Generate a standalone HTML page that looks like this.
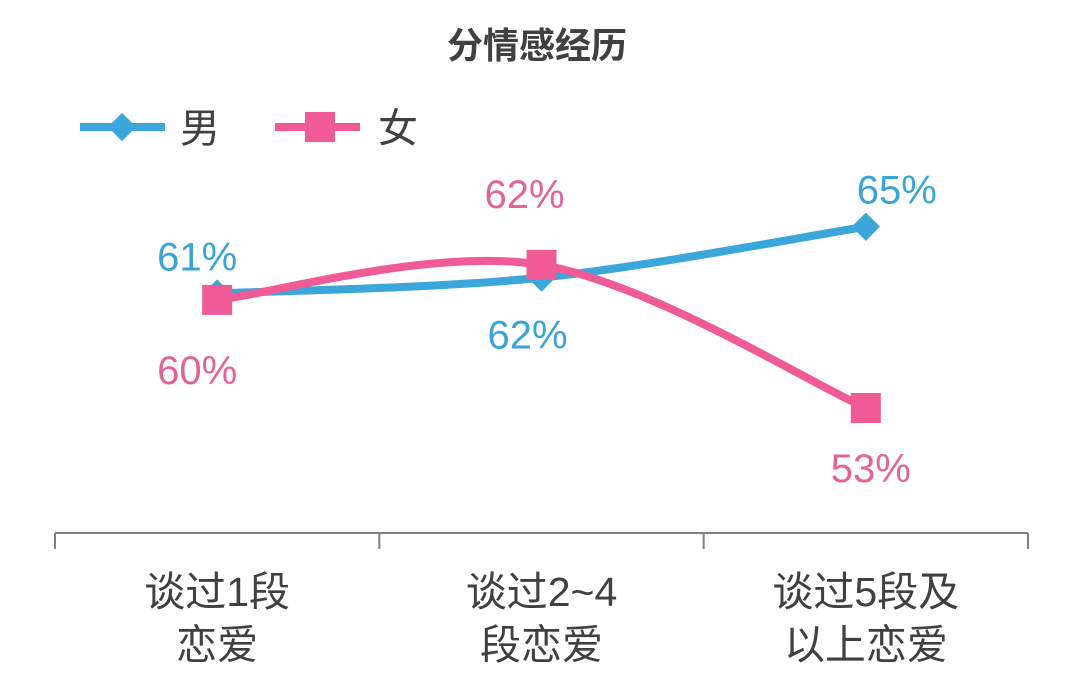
<!DOCTYPE html>
<html><head><meta charset="utf-8"><style>
html,body{margin:0;padding:0;background:#fff;}
svg text{font-family:"Liberation Sans","Noto Sans CJK SC",sans-serif;}
</style></head><body>
<svg id="chart" width="1080" height="684" viewBox="0 0 1080 684">
<text x="537" y="58" text-anchor="middle" font-size="36" font-weight="bold" fill="#404040">分情感经历</text>
<g>
<g>
<line x1="80" y1="127" x2="165" y2="127" stroke="#3ba6d9" stroke-width="8"/>
<rect x="112" y="117" width="20" height="20" fill="#3ba6d9" transform="rotate(45 122 127)"/>
<text x="180" y="142" font-size="40" fill="#404040">男</text>
</g>
<g>
<line x1="275" y1="127" x2="360" y2="127" stroke="#ef5a97" stroke-width="8"/>
<rect x="305" y="112" width="30" height="30" fill="#ef5a97"/>
<text x="378" y="142" font-size="40" fill="#404040">女</text>
</g>
</g>
<g id="axis"></g>
<g id="series"></g>
</svg>
<script>
const categories = [["谈过1段","恋爱"],["谈过2~4","段恋爱"],["谈过5段及","以上恋爱"]];
const maleValues = [60.2, 61.2, 64.4];
const femaleValues = [59.8, 62.0, 53.0];
const maleLabels = ["61%","62%","65%"];
const femaleLabels = ["60%","62%","53%"];

const NS="http://www.w3.org/2000/svg";
const left=55,right=1028,axisY=533;
const band=(right-left)/categories.length;
const xs=i=>left+band*(i+0.5);
const ys=v=>408-(v-53)*15.9;
function mk(tag,attrs,parent){const e=document.createElementNS(NS,tag);for(const k in attrs)e.setAttribute(k,attrs[k]);parent.appendChild(e);return e;}
const axis=document.getElementById('axis'),series=document.getElementById('series');
mk('line',{x1:left,y1:axisY,x2:right,y2:axisY,stroke:'#808080','stroke-width':2},axis);
for(let i=0;i<=categories.length;i++){
  const t=mk('line',{x1:left+band*i,y1:axisY,x2:left+band*i,y2:549,stroke:'#808080','stroke-width':2},axis);
  
  
}
categories.forEach((c,i)=>{
  c.forEach((ln,j)=>{
    const t=mk('text',{x:xs(i),y:606+j*53,'text-anchor':'middle','font-size':41,fill:'#404040'},axis);
    t.textContent=ln;
    
    
  });
});
function curve(pts){
  let d=`M${pts[0][0]},${pts[0][1]}`;
  for(let i=0;i<pts.length-1;i++){
    const p0=pts[i-1]||pts[i],p1=pts[i],p2=pts[i+1],p3=pts[i+2]||p2;
    const c1=[p1[0]+(p2[0]-p0[0])/6,p1[1]+(p2[1]-p0[1])/6];
    const c2=[p2[0]-(p3[0]-p1[0])/6,p2[1]-(p3[1]-p1[1])/6];
    d+=` C${c1[0]},${c1[1]} ${c2[0]},${c2[1]} ${p2[0]},${p2[1]}`;
  }
  return d;
}
function draw(vals,labels,color,textColor,marker,offs,name){
  const pts=vals.map((v,i)=>[xs(i),ys(v)]);
  const p=mk('path',{d:curve(pts),fill:'none',stroke:color,'stroke-width':8,'stroke-linecap':'round'},series);
  
  
  pts.forEach((pt,i)=>{
    let m;
    if(marker==='diamond'){m=mk('rect',{x:pt[0]-10,y:pt[1]-10,width:20,height:20,fill:color,transform:`rotate(45 ${pt[0]} ${pt[1]})`},series);}
    else{m=mk('rect',{x:pt[0]-15,y:pt[1]-15,width:30,height:30,fill:color},series);}
    
    
    const t=mk('text',{x:pt[0]+offs[i][0],y:pt[1]+offs[i][1],'text-anchor':'middle','font-size':40,fill:textColor},series);
    t.textContent=labels[i];
    
    
  });
}
draw(maleValues,maleLabels,'#3ba6d9','#3aa4d6','diamond',[[-20,-23],[-14,71],[31,-23]],'male');
draw(femaleValues,femaleLabels,'#ef5a97','#e2629a','square',[[-20,84],[-17,-57],[5,74]],'female');
</script>
</body></html>
